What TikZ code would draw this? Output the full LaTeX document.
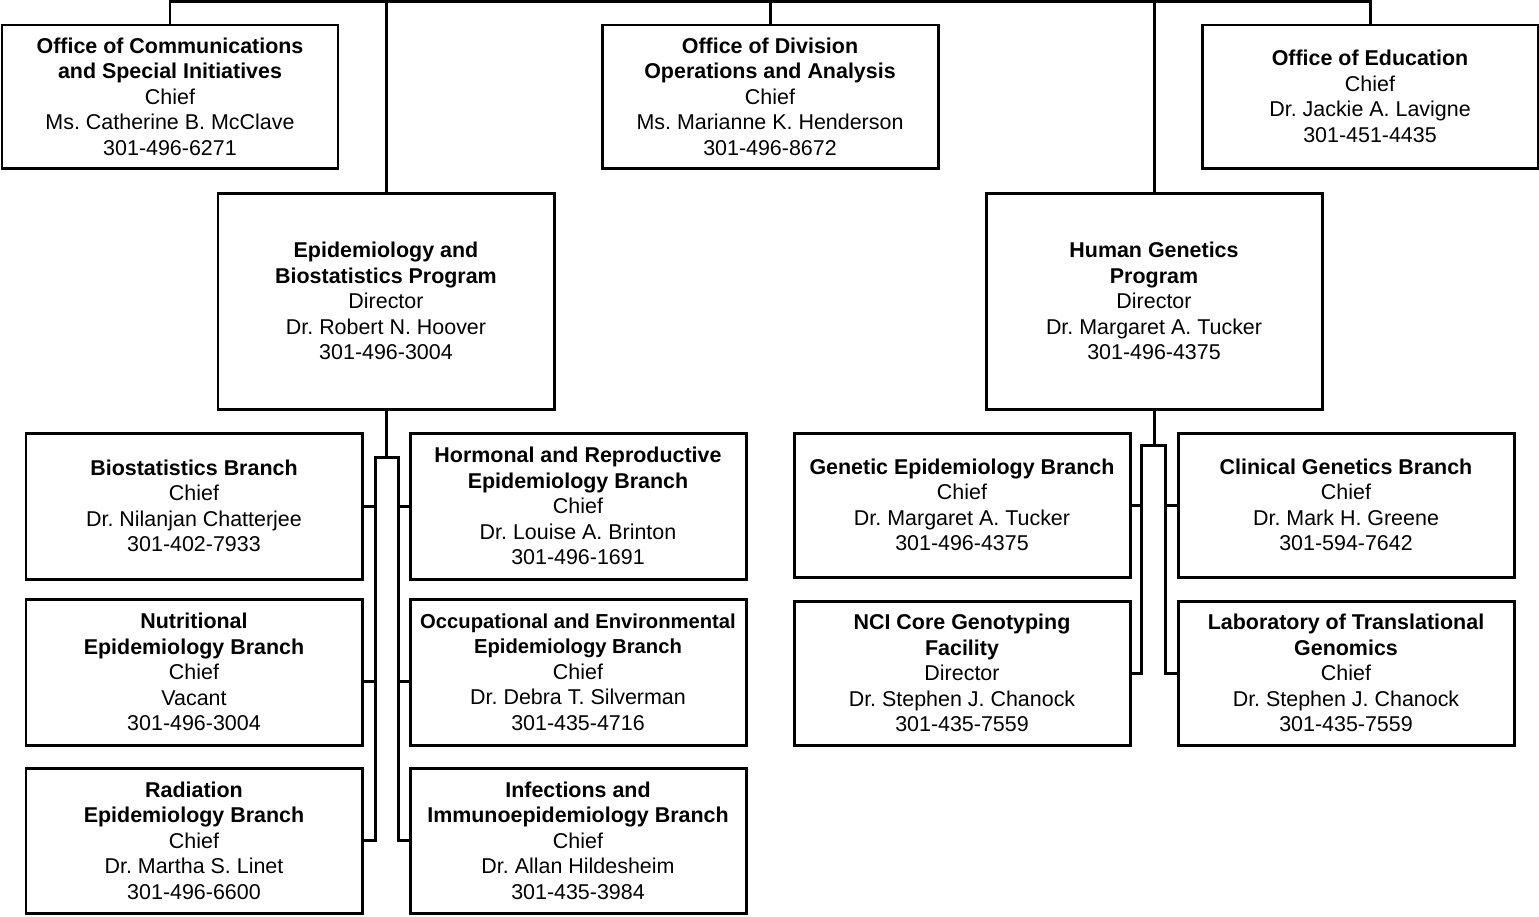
\documentclass[tikz,border=0pt]{standalone}
\usepackage{fontspec}
\setmainfont{Liberation Sans}
\usetikzlibrary{positioning}
\frenchspacing

\begin{document}
\begin{tikzpicture}[
	unit/.style={draw, line width=1.7pt, rectangle, minimum width=6.72cm, minimum height=2.88cm, inner sep=0pt, align=center, font=\fontsize{12.2}{14.5}\selectfont},
	link/.style={line width=1.7pt}]
		\useasboundingbox (0,0) rectangle (30.78,-18.32);
		% offices
		\node[unit, minimum height=2.86cm] (ocsi) at (3.40,-1.93) {\textbf{Office of Communications}\\\textbf{and Special Initiatives}\\Chief\\Ms. Catherine B. McClave\\301-496-6271};
		\node[unit, minimum height=2.86cm] (odoa) at (15.40,-1.93) {\textbf{Office of Division}\\\textbf{Operations and Analysis}\\Chief\\Ms. Marianne K. Henderson\\301-496-8672};
		\node[unit, minimum height=2.86cm] (oe) at (27.40,-1.93) {\textbf{Office of Education}\\Chief\\Dr. Jackie A. Lavigne\\301-451-4435};
		% programs
		\node[unit, minimum height=4.32cm] (ebp) at (7.72,-6.02) {\textbf{Epidemiology and}\\\textbf{Biostatistics Program}\\Director\\Dr. Robert N. Hoover\\301-496-3004};
		\node[unit, minimum height=4.32cm] (hgp) at (23.08,-6.02) {\textbf{Human Genetics}\\\textbf{Program}\\Director\\Dr. Margaret A. Tucker\\301-496-4375};
		% epidemiology branches
		\node[unit, minimum height=2.92cm] (bb) at (3.88,-10.12) {\textbf{Biostatistics Branch}\\Chief\\Dr. Nilanjan Chatterjee\\301-402-7933};
		\node[unit, minimum height=2.92cm] (neb) at (3.88,-13.44) {\textbf{Nutritional}\\\textbf{Epidemiology Branch}\\Chief\\Vacant\\301-496-3004};
		\node[unit, minimum height=2.90cm] (reb) at (3.88,-16.81) {\textbf{Radiation}\\\textbf{Epidemiology Branch}\\Chief\\Dr. Martha S. Linet\\301-496-6600};
		\node[unit, minimum height=2.92cm] (hreb) at (11.56,-10.12) {\textbf{Hormonal and Reproductive}\\\textbf{Epidemiology Branch}\\Chief\\Dr. Louise A. Brinton\\301-496-1691};
		\node[unit, minimum height=2.92cm] (oeeb) at (11.56,-13.44) {{\fontsize{11.5}{14.5}\selectfont\textbf{Occupational and Environmental}}\\{\fontsize{11.5}{14.5}\selectfont\textbf{Epidemiology Branch}}\\Chief\\Dr. Debra T. Silverman\\301-435-4716};
		\node[unit, minimum height=2.90cm] (iieb) at (11.56,-16.81) {\textbf{Infections and}\\\textbf{Immunoepidemiology Branch}\\Chief\\Dr. Allan Hildesheim\\301-435-3984};
		% genetics branches
		\node[unit] (geb) at (19.24,-10.10) {\textbf{Genetic Epidemiology Branch}\\Chief\\Dr. Margaret A. Tucker\\301-496-4375};
		\node[unit] (ncf) at (19.24,-13.46) {\textbf{NCI Core Genotyping}\\\textbf{Facility}\\Director\\Dr. Stephen J. Chanock\\301-435-7559};
		\node[unit] (cgb) at (26.92,-10.10) {\textbf{Clinical Genetics Branch}\\Chief\\Dr. Mark H. Greene\\301-594-7642};
		\node[unit] (ltg) at (26.92,-13.46) {\textbf{Laboratory of Translational}\\\textbf{Genomics}\\Chief\\Dr. Stephen J. Chanock\\301-435-7559};

		% top bus
		\coordinate (top) at (15.40,-0.03);
		\draw[link] (ocsi.north) |- (top) -| (oe.north);
		\draw[link] (odoa.north) -- (top);
		\draw[link] (ebp.north) -- (ebp.north |- top);
		\draw[link] (hgp.north) -- (hgp.north |- top);

		% epidemiology bars
		\coordinate (el) at (7.50,-9.15);
		\coordinate (er) at (7.96,-9.15);
		\draw[link] (ebp.south) -- (ebp.south |- el);
		\draw[link] (reb.east) -| (el) -- (er) |- (iieb.west);
		\draw[link] (bb.east) -- (bb.east -| el);
		\draw[link] (hreb.west) -- (hreb.west -| er);
		\draw[link] ([yshift=-0.19cm]neb.east) -- ([yshift=-0.19cm]neb.east -| el);
		\draw[link] ([yshift=-0.19cm]oeeb.west) -- ([yshift=-0.19cm]oeeb.west -| er);

		% genetics bars
		\coordinate (hl) at (22.83,-8.90);
		\coordinate (hr) at (23.31,-8.90);
		\draw[link] (hgp.south) -- (hgp.south |- hl);
		\draw[link] (ncf.east) -| (hl) -- (hr) |- (ltg.west);
		\draw[link] (geb.east) -- (geb.east -| hl);
		\draw[link] (cgb.west) -- (cgb.west -| hr);
	\end{tikzpicture}
\end{document}
